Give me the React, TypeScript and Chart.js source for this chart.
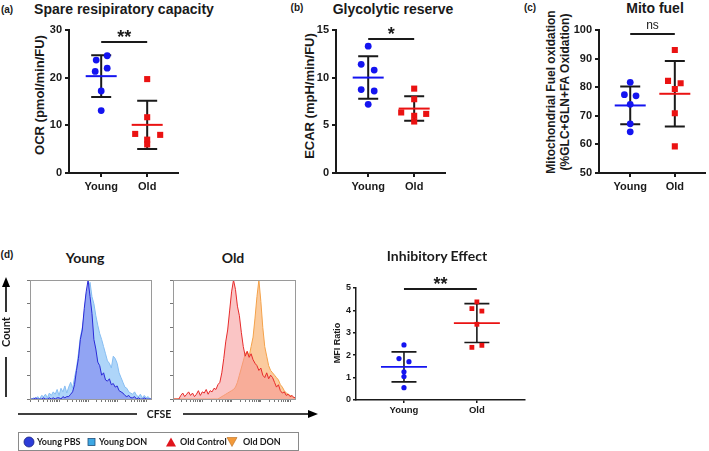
import React, { useEffect, useRef } from 'react';
import { Chart, registerables } from 'chart.js';

Chart.register(...registerables);

// ---------- data ----------
const GROUPS = ['Young', 'Old'];

const OCR_YOUNG = [23.7, 24.6, 21.3, 22.0, 17.2, 13.1];
const OCR_OLD = [19.7, 11.7, 8.2, 8.0, 7.0, 6.0];

const ECAR_YOUNG = [13.3, 11.4, 10.8, 8.75, 8.6, 7.2];
const ECAR_OLD = [8.85, 7.74, 6.35, 6.2, 6.0, 5.4];

const FUEL_YOUNG = [81.7, 77.4, 77.0, 74.0, 67.2, 64.4];
const FUEL_OLD = [93.0, 82.2, 81.4, 79.4, 70.9, 59.3];

const MFI_YOUNG = [2.46, 1.85, 1.71, 1.26, 1.05, 0.55];
const MFI_OLD = [4.38, 4.08, 3.97, 3.38, 2.44, 2.35];

// CFSE histograms (64 bins, % of max count)
const HIST_YOUNG_PBS = [
  0, 0, 0, 1, 0, 0, 0, 1, 0, 0,
  1, 0, 1, 0, 1, 1, 0, 2, 1, 2,
  2, 4, 6, 12, 24, 34, 50, 58, 76, 90,
  100, 86, 72, 50, 42, 31, 28, 20, 22, 16,
  15, 17, 12, 13, 10, 11, 7, 6, 5, 3,
  2, 3, 1, 1, 2, 0, 1, 0, 0, 1,
  0, 0, 0, 0,
];
const HIST_YOUNG_DON = [
  0, 0, 1, 0, 2, 0, 3, 2, 4, 1,
  5, 3, 6, 4, 8, 3, 9, 6, 11, 5,
  10, 14, 9, 18, 26, 38, 52, 60, 72, 88,
  92, 98, 86, 80, 70, 62, 55, 50, 44, 38,
  32, 30, 26, 36, 34, 30, 22, 18, 14, 10,
  9, 6, 5, 4, 6, 3, 2, 4, 1, 3,
  1, 2, 0, 1,
];
const HIST_OLD_CONTROL = [
  0, 0, 0, 0, 3, 5, 2, 4, 6, 3,
  5, 2, 4, 7, 3, 6, 5, 8, 4, 7,
  6, 9, 8, 12, 14, 22, 34, 48, 58, 74,
  90, 100, 92, 78, 70, 56, 44, 36, 40, 35,
  38, 33, 30, 28, 24, 26, 20, 18, 22, 17,
  20, 18, 14, 10, 12, 7, 5, 6, 3, 4,
  2, 3, 1, 2,
];
const HIST_OLD_DON = [
  0, 0, 0, 0, 0, 0, 0, 0, 0, 0,
  0, 0, 0, 0, 0, 0, 0, 0, 0, 0,
  0, 0, 0, 0, 1, 2, 3, 4, 5, 6,
  7, 8, 10, 14, 20, 26, 32, 38, 40, 36,
  44, 52, 68, 86, 100, 82, 60, 44, 36, 28,
  24, 22, 20, 18, 16, 12, 10, 7, 5, 4,
  3, 2, 1, 0,
];

// ---------- layout / style ----------
const ARIAL = "'Liberation Sans', Arial, sans-serif";
const NARROW = "'Liberation Sans Narrow', 'Liberation Sans', Arial, sans-serif";
const CAL = "Lato, 'Open Sans', sans-serif";
const BLUE = '#1414f0';
const RED = '#ea1212';
const INK = '#1a1a1a';

// horizontal jitter of the dots, in px
const JIT_A_Y = [-5, 6, -6, 6, 0, 0];
const JIT_A_O = [0, 0, -12, 13, 0, 0];
const JIT_B_Y = [0, -7, 6, -7, 6, 0];
const JIT_B_O = [0, 0, -13, 12, 0, 0];
const JIT_C_Y = [0, -6, 6, 0, 0, 0];
const JIT_C_O = [0, -7, 6, 0, 0, 0];
const JIT_D_Y = [0, -5, 5, 0, 0, 0];
const JIT_D_O = [0, -5, 5, 0, 5, -5];

type DotCfg = {
  left: number; top: number; width: number; height: number;
  yAxisW: number; padTop: number; xAxisH: number; padRight: number;
  xMin: number; xMax: number; pxPerUnit: number;
  yMin: number; yMax: number; yStep: number;
  young: number[]; old: number[]; jitY: number[]; jitO: number[];
  rCircle: number; rSquare: number;
  capHalf: number; meanHalf: number; errW: number;
  sigY: number; sigText: string; sigFont: string; sigDy: number;
  tickFont: number; xTickFont: number; axisW: number; tickLen: number;
  yPad: number; xPad: number;
};

function stats(v: number[]) {
  const n = v.length;
  const m = v.reduce((a, b) => a + b, 0) / n;
  const sd = Math.sqrt(v.reduce((a, b) => a + (b - m) * (b - m), 0) / (n - 1));
  return { m, sd };
}

function DotPanel({ cfg }: { cfg: DotCfg }) {
  const ref = useRef<HTMLCanvasElement | null>(null);
  useEffect(() => {
    if (!ref.current) return;
    const plugin = {
      id: 'errs',
      beforeDatasetsDraw(chart: any) {
        const { ctx, scales } = chart;
        const x = scales.x, y = scales.y;
        ctx.save();
        const groups: [number[], string, number][] = [[cfg.young, BLUE, 1], [cfg.old, RED, 2]];
        groups.forEach(([vals, col, cat]) => {
          const { m, sd } = stats(vals);
          const px = x.getPixelForValue(cat);
          const yHi = y.getPixelForValue(m + sd);
          const yLo = y.getPixelForValue(m - sd);
          const yM = y.getPixelForValue(m);
          ctx.strokeStyle = INK;
          ctx.lineWidth = cfg.errW;
          ctx.beginPath();
          ctx.moveTo(px, yHi); ctx.lineTo(px, yLo);
          ctx.moveTo(px - cfg.capHalf, yHi); ctx.lineTo(px + cfg.capHalf, yHi);
          ctx.moveTo(px - cfg.capHalf, yLo); ctx.lineTo(px + cfg.capHalf, yLo);
          ctx.stroke();
          ctx.strokeStyle = col;
          ctx.beginPath();
          ctx.moveTo(px - cfg.meanHalf, yM); ctx.lineTo(px + cfg.meanHalf, yM);
          ctx.stroke();
        });
        const sy = y.getPixelForValue(cfg.sigY);
        const x1 = x.getPixelForValue(1), x2 = x.getPixelForValue(2);
        ctx.strokeStyle = INK;
        ctx.lineWidth = 2;
        ctx.beginPath(); ctx.moveTo(x1, sy); ctx.lineTo(x2, sy); ctx.stroke();
        ctx.fillStyle = INK;
        ctx.font = cfg.sigFont;
        ctx.textAlign = 'center';
        ctx.textBaseline = 'alphabetic';
        ctx.fillText(cfg.sigText, (x1 + x2) / 2, sy + cfg.sigDy);
        ctx.restore();
      },
    };
    const chart = new Chart(ref.current, {
      type: 'scatter',
      data: {
        datasets: [
          {
            data: cfg.young.map((v, i) => ({ x: 1 + cfg.jitY[i] / cfg.pxPerUnit, y: v })),
            pointStyle: 'circle', pointRadius: cfg.rCircle, backgroundColor: BLUE, borderWidth: 0,
          },
          {
            data: cfg.old.map((v, i) => ({ x: 2 + cfg.jitO[i] / cfg.pxPerUnit, y: v })),
            pointStyle: 'rect', pointRadius: cfg.rSquare, backgroundColor: RED, borderWidth: 0,
          },
        ],
      },
      options: {
        animation: false,
        responsive: false,
        maintainAspectRatio: false,
        events: [],
        layout: { padding: { top: cfg.padTop, right: cfg.padRight, left: 0, bottom: 0 } },
        plugins: { legend: { display: false }, tooltip: { enabled: false }, title: { display: false } },
        scales: {
          x: {
            type: 'linear', min: cfg.xMin, max: cfg.xMax,
            afterBuildTicks: (s: any) => { s.ticks = [{ value: 1 }, { value: 2 }]; },
            afterFit: (s: any) => { s.height = cfg.xAxisH; },
            ticks: {
              callback: (v: any) => GROUPS[Math.round(Number(v)) - 1],
              font: { family: ARIAL, size: cfg.xTickFont, weight: 'bold' }, color: INK, padding: cfg.xPad,
              autoSkip: false, maxRotation: 0,
            },
            grid: { drawOnChartArea: false, drawTicks: true, tickLength: cfg.tickLen, color: INK, lineWidth: cfg.axisW },
            border: { display: true, color: INK, width: cfg.axisW },
          },
          y: {
            min: cfg.yMin, max: cfg.yMax,
            afterFit: (s: any) => { s.width = cfg.yAxisW; },
            ticks: {
              stepSize: cfg.yStep,
              font: { family: ARIAL, size: cfg.tickFont, weight: 'bold' }, color: INK, padding: cfg.yPad,
            },
            grid: { drawOnChartArea: false, drawTicks: true, tickLength: cfg.tickLen, color: INK, lineWidth: cfg.axisW },
            border: { display: true, color: INK, width: cfg.axisW },
          },
        },
      } as any,
      plugins: [plugin],
    });
    return () => chart.destroy();
  }, []);
  return (
    <canvas
      ref={ref}
      width={cfg.width}
      height={cfg.height}
      style={{ position: 'absolute', left: cfg.left, top: cfg.top, width: cfg.width, height: cfg.height }}
    />
  );
}

type HistSeries = { data: number[]; line: string; fill: string };

function Histogram({ left, top, width, height, padRight, series }: {
  left: number; top: number; width: number; height: number; padRight: number; series: HistSeries[];
}) {
  const ref = useRef<HTMLCanvasElement | null>(null);
  useEffect(() => {
    if (!ref.current) return;
    const boxPlugin = {
      id: 'box',
      afterDraw(chart: any) {
        const { ctx, chartArea: a } = chart;
        ctx.save();
        ctx.strokeStyle = '#9a9a9a';
        ctx.lineWidth = 1;
        ctx.strokeRect(Math.round(a.left) + 0.5, Math.round(a.top) + 0.5, Math.round(a.right - a.left) - 1, Math.round(a.bottom - a.top));
        ctx.restore();
      },
    };
    const chart = new Chart(ref.current, {
      type: 'line',
      data: {
        datasets: series.map((s) => ({
          data: s.data.map((v, i) => ({ x: i, y: v })),
          borderColor: s.line,
          backgroundColor: s.fill,
          borderWidth: 1,
          pointRadius: 0,
          tension: 0,
          fill: 'origin',
        })),
      },
      options: {
        animation: false,
        responsive: false,
        maintainAspectRatio: false,
        events: [],
        layout: { padding: { top: 8, right: padRight, left: 0, bottom: 0 } },
        plugins: { legend: { display: false }, tooltip: { enabled: false } },
        scales: {
          x: {
            type: 'linear', min: 0, max: 63,
            afterBuildTicks: (s: any) => {
              const t: any[] = [];
              for (let d = 0; d < 5; d++) {
                for (let k = 1; k <= 9; k++) {
                  const v = d * 15 + Math.log10(k) * 15;
                  if (v <= 63) t.push({ value: v });
                }
              }
              s.ticks = t;
            },
            afterFit: (s: any) => { s.height = 8; },
            ticks: { display: false },
            grid: { drawOnChartArea: false, drawTicks: true, tickLength: 3, color: '#777', lineWidth: 1 },
            border: { display: false },
          },
          y: {
            min: 0, max: 100,
            afterFit: (s: any) => { s.width = 10; },
            ticks: { display: false, stepSize: 20 },
            grid: { drawOnChartArea: false, drawTicks: true, tickLength: 3, color: '#777', lineWidth: 1 },
            border: { display: false },
          },
        },
      } as any,
      plugins: [boxPlugin],
    });
    return () => chart.destroy();
  }, []);
  return (
    <canvas
      ref={ref}
      width={width}
      height={height}
      style={{ position: 'absolute', left, top, width, height }}
    />
  );
}

function T({ x, y, s, w = 700, f = ARIAL, rot = 0, align = 'center', children }: any) {
  const tx = align === 'left' ? '0' : '-50%';
  return (
    <div
      style={{
        position: 'absolute', left: x, top: y,
        transform: `translate(${tx},-50%) rotate(${rot}deg)`,
        fontSize: s, fontWeight: w, fontFamily: f, whiteSpace: 'nowrap',
        lineHeight: 1.2, color: INK, textAlign: 'center',
      }}
    >
      {children}
    </div>
  );
}

const BASE = {
  width: 0, left: 0, top: 20, height: 180,
  padTop: 10, xAxisH: 27,
  xMin: 0.3, xMax: 2.67, pxPerUnit: 46,
  rCircle: 3.4, rSquare: 4.3,
  capHalf: 10, meanHalf: 15.5, errW: 2,
  sigFont: `bold 18px ${ARIAL}`, sigDy: 1,
  tickFont: 11, xTickFont: 11, axisW: 2, tickLen: 4, yPad: 3, xPad: 3,
};

const CFG_A: DotCfg = {
  ...BASE, left: 0, width: 195, yAxisW: 69, padRight: 17,
  yMin: 0, yMax: 30, yStep: 10,
  young: OCR_YOUNG, old: OCR_OLD, jitY: JIT_A_Y, jitO: JIT_A_O,
  sigY: 27.5, sigText: '**',
};
const CFG_B: DotCfg = {
  ...BASE, left: 250, width: 210, yAxisW: 86, padRight: 15,
  yMin: 0, yMax: 15, yStep: 5,
  young: ECAR_YOUNG, old: ECAR_OLD, jitY: JIT_B_Y, jitO: JIT_B_O,
  sigY: 14.06, sigText: '*',
};
const CFG_C: DotCfg = {
  ...BASE, left: 520, width: 189, yAxisW: 79, padRight: 1,
  yMin: 50, yMax: 100, yStep: 10,
  young: FUEL_YOUNG, old: FUEL_OLD, jitY: JIT_C_Y, jitO: JIT_C_O,
  sigY: 98.6, sigText: 'ns', sigFont: `12px ${ARIAL}`, sigDy: -5,
};
const CFG_D: DotCfg = {
  ...BASE, left: 325, top: 270, width: 210, height: 160,
  yAxisW: 31, padTop: 18, xAxisH: 30, padRight: 10,
  xMin: 0.342, xMax: 2.66, pxPerUnit: 73,
  yMin: 0, yMax: 5, yStep: 1,
  young: MFI_YOUNG, old: MFI_OLD, jitY: JIT_D_Y, jitO: JIT_D_O,
  rCircle: 2.6, rSquare: 3.4, capHalf: 12.5, meanHalf: 23, errW: 1.6,
  sigY: 4.96, sigText: '**', sigFont: `bold 18px ${ARIAL}`, sigDy: 1,
  tickFont: 9, xTickFont: 9.5, axisW: 1.5, tickLen: 3, yPad: 2, xPad: 2,
};

export default function App() {
  return (
    <div
      style={{
        position: 'absolute', left: 0, top: 0, width: 709, height: 451,
        overflow: 'hidden', background: '#fff', fontFamily: ARIAL,
      }}
    >
      {/* panel labels & titles */}
      <T x={7} y={10} s={10}>(a)</T>
      <T x={297} y={8} s={10}>(b)</T>
      <T x={530} y={8} s={10}>(c)</T>
      <T x={7} y={255} s={10}>(d)</T>
      <T x={124} y={9} s={14}>Spare resipiratory capacity</T>
      <T x={393} y={9} s={14}>Glycolytic reserve</T>
      <T x={655} y={8} s={14}>Mito fuel</T>

      {/* y-axis titles */}
      <T x={40} y={95} s={13} rot={-90}>OCR (pmol/min/FU)</T>
      <T x={310} y={96} s={13} rot={-90}>ECAR (mpH/min/FU)</T>
      <div
        style={{
          position: 'absolute', left: 558, top: 92,
          transform: 'translate(-50%,-50%) rotate(-90deg)',
          fontSize: 12, fontWeight: 700, fontFamily: NARROW, whiteSpace: 'nowrap',
          lineHeight: '14px', color: INK, textAlign: 'center',
        }}
      >
        Mitochondrial Fuel oxidation<br />(%GLC+GLN+FA Oxidation)
      </div>

      <DotPanel cfg={CFG_A} />
      <DotPanel cfg={CFG_B} />
      <DotPanel cfg={CFG_C} />

      {/* panel d */}
      <T x={85} y={258} s={14} f={CAL}>Young</T>
      <T x={233} y={258} s={14} f={CAL}>Old</T>
      <Histogram
        left={20} top={272} width={140} height={135} padRight={8}
        series={[
          { data: HIST_YOUNG_PBS, line: '#2a2ad8', fill: 'rgba(135,145,240,0.72)' },
          { data: HIST_YOUNG_DON, line: '#86bdf2', fill: 'rgba(165,208,248,0.90)' },
        ]}
      />
      <Histogram
        left={163} top={272} width={140} height={135} padRight={7}
        series={[
          { data: HIST_OLD_CONTROL, line: '#e62a2a', fill: 'rgba(245,150,150,0.55)' },
          { data: HIST_OLD_DON, line: '#f4a24a', fill: 'rgba(250,185,125,0.75)' },
        ]}
      />

      <svg width={709} height={451} style={{ position: 'absolute', left: 0, top: 0 }}>
        {/* Count arrow */}
        <line x1={6} y1={285} x2={6} y2={312} stroke="#000" strokeWidth={1.6} />
        <line x1={6} y1={357} x2={6} y2={397} stroke="#000" strokeWidth={1.6} />
        <polygon points="6,277 2,287 10,287" fill="#000" />
        {/* CFSE arrow */}
        <line x1={18} y1={414} x2={137} y2={414} stroke="#000" strokeWidth={1.6} />
        <line x1={183} y1={414} x2={310} y2={414} stroke="#000" strokeWidth={1.6} />
        <polygon points="318,414 308,410 308,418" fill="#000" />
        {/* legend */}
        <rect x={18.5} y={432.5} width={280} height={18} fill="none" stroke="#8a8a8a" strokeWidth={1} />
        <circle cx={29} cy={442} r={5} fill="#2c3cd8" stroke="#1a2380" strokeWidth={0.8} />
        <rect x={88} y={438.5} width={7} height={7} fill="#3ea8e4" stroke="#1f4f7a" strokeWidth={0.8} />
        <polygon points="166,446.5 176,446.5 171,437.5" fill="#e0141c" />
        <polygon points="227,437.5 237,437.5 232,446.5" fill="#f39a3a" stroke="#b86b1f" strokeWidth={0.6} />
      </svg>
      <T x={6} y={332} s={11} f={CAL} rot={-90}>Count</T>
      <T x={159} y={414} s={10.5} f={CAL}>CFSE</T>
      <T x={37} y={442} s={9} f={CAL} align="left">Young PBS</T>
      <T x={99} y={442} s={9} f={CAL} align="left">Young DON</T>
      <T x={180} y={442} s={9} f={CAL} align="left">Old Control</T>
      <T x={243} y={442} s={9} f={CAL} align="left">Old DON</T>

      <T x={437} y={256} s={14} f={CAL}>Inhibitory Effect</T>
      <T x={336.5} y={343} s={9} rot={-90}>MFI Ratio</T>
      <DotPanel cfg={CFG_D} />
    </div>
  );
}
